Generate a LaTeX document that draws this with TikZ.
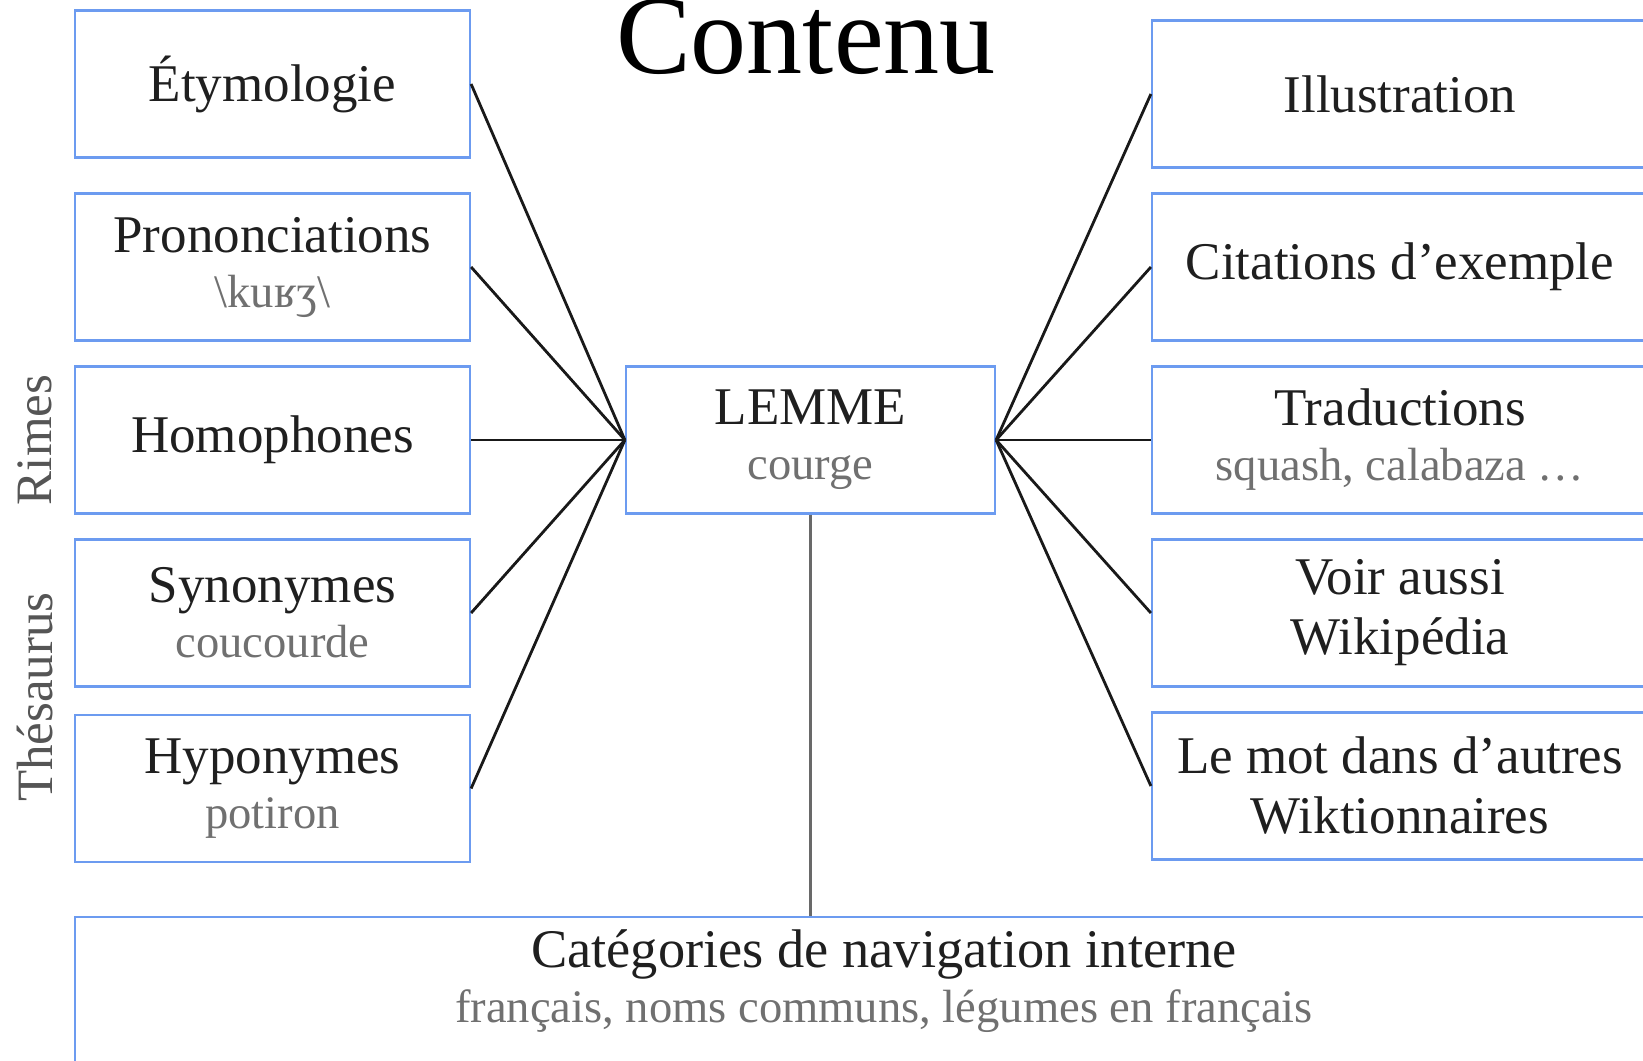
\documentclass[tikz,border=0pt]{standalone}
\usepackage{fontspec}
\setmainfont{Liberation Serif}
\definecolor{wikiblue}{RGB}{108,155,240}
\definecolor{subgray}{RGB}{112,112,112}
\definecolor{sidegray}{RGB}{85,85,85}
\definecolor{linegray}{RGB}{105,105,105}
\tikzstyle{box}=[draw=wikiblue, line width=1.1pt, inner sep=0pt, minimum width=197.5pt, minimum height=73.5pt, align=center, text=black!88, font=\fontsize{26.5}{27.5}\selectfont]
\tikzstyle{box-right}=[box, minimum width=248pt]
\tikzstyle{box-lemme}=[box, minimum width=184.5pt]
\tikzstyle{box-bottom}=[box, minimum width=809pt, minimum height=100pt]
\tikzstyle{side}=[rotate=90, text=sidegray, font=\fontsize{25.5}{27}\selectfont]
\tikzstyle{link}=[line width=1.4pt, black!90]
\newcommand{\soustitre}[1]{{\color{subgray}\fontsize{23.3}{27.5}\selectfont #1}}

\begin{document}
\begin{tikzpicture}[x=0.5pt, y=-0.5pt]
	\useasboundingbox (0,0) rectangle (1643,1060);
	% title and side labels
	 \node [anchor=base, font=\fontsize{56}{60}\selectfont] (titre) at (806,73) {Contenu};
	 \node [side] (rimes) at (35,440) {Rimes};
	 \node [side] (thes) at (35,697) {Thésaurus};

	% nodes
	 \node [box] (etym) at (272.5,84) {Étymologie};
	 \node [box] (pron) at (272.5,267) {Prononciations\\\soustitre{\textbackslash kuʁʒ\textbackslash}};
	 \node [box] (homo) at (272.5,440) {Homophones};
	 \node [box] (syn) at (272.5,613) {Synonymes\\\soustitre{coucourde}};
	 \node [box] (hypo) at (272.5,788.5) {Hyponymes\\\soustitre{potiron}};

	 \node [box-lemme] (lemme) at (810.5,440) {LEMME\\\soustitre{courge}};

	 \node [box-right] (illu) at (1400,94) {Illustration};
	 \node [box-right] (cita) at (1400,267) {Citations d’exemple};
	 \node [box-right] (trad) at (1400,440) {Traductions\\\soustitre{squash, calabaza …}};
	 \node [box-right] (voir) at (1400,613) {Voir aussi\\[2.5pt]Wikipédia};
	 \node [box-right] (autres) at (1400,786) {Le mot dans d’autres\\[2.5pt]Wiktionnaires};

	 \node [box-bottom] (cat) at (884,1017) {};
	 \node [align=center, text=black!88, font=\fontsize{27.2}{27.5}\selectfont] (cattxt) at (884,981) {Catégories de navigation interne\\\soustitre{français, noms communs, légumes en français}};

	% lines
	 \draw [link] (etym.east) -- (lemme.west);
	 \draw [link] (pron.east) -- (lemme.west);
	 \draw [link] (homo.east) -- (lemme.west);
	 \draw [link] (syn.east) -- (lemme.west);
	 \draw [link] (hypo.east) -- (lemme.west);

	 \draw [link] (lemme.east) -- (illu.west);
	 \draw [link] (lemme.east) -- (cita.west);
	 \draw [link] (lemme.east) -- (trad.west);
	 \draw [link] (lemme.east) -- (voir.west);
	 \draw [link] (lemme.east) -- (autres.west);

	 \draw [link, linegray, line width=1.6pt] (lemme.south) -- (lemme.south |- cat.north);
\end{tikzpicture}
\end{document}
